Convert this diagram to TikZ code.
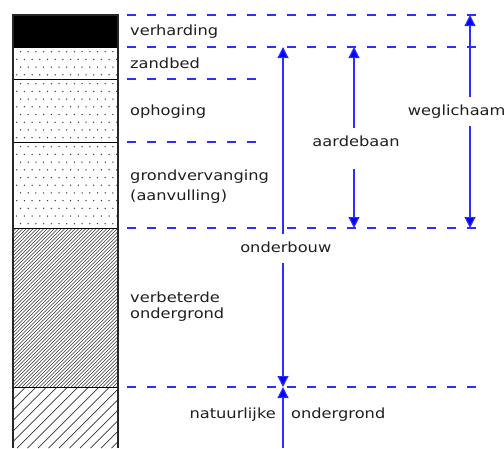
\documentclass[tikz,border=0pt]{standalone}
\usepackage{fontspec}
\newfontfamily\cadfont{DejaVu Sans}[FakeStretch=1.16]
\usetikzlibrary{arrows.meta}
\definecolor{dimblue}{RGB}{45,45,255}
\definecolor{dotgray}{RGB}{60,60,60}
\tikzset{
    lbl/.style={font=\cadfont\fontsize{14}{17}\selectfont, text=black!88, inner sep=0pt},
    arrlbl/.style={lbl, text height=10.6pt, text depth=3.3pt, inner ysep=7.5pt},
    guide/.style={draw=dimblue, line width=1.1pt, dash pattern=on 8.5pt off 11.5pt},
    dimarrow/.style={draw=dimblue, line width=1.2pt, -{Triangle[width=11pt,length=11pt,fill=blue]}}
}
\newcommand\sanddots[2]{%
    \pgfmathsetmacro\rows{floor((#2-#1-2)/7.7)}
    \foreach \r in {0,...,\rows}{
        \pgfmathsetmacro\yy{#1+4.7+7.7*\r}
        \ifodd\r
            \foreach \c in {0,...,13}{\fill[dotgray] (16.7+7.7*\c,\yy) circle (0.75pt);}
        \else
            \foreach \c in {0,...,12}{\fill[dotgray] (20.5+7.7*\c,\yy) circle (0.75pt);}
        \fi
    }
}
\begin{document}
\begin{tikzpicture}[x=1pt, y=-1pt]
    \useasboundingbox (0,0) rectangle (504,448);
    \fill[black] (13,15) rectangle (118,47);
    \sanddots{47}{79}
    \sanddots{79}{142}
    \sanddots{142}{228}
    \begin{scope}
        \clip (13,228) rectangle (118,387);
        \foreach \i in {0,...,76}{\draw[black!80, line width=0.6pt] (-146+3.5*\i,387) -- ++(159,-159);}
    \end{scope}
    \begin{scope}
        \clip (13,387) rectangle (118,448);
        \foreach \i in {0,...,16}{\draw[black!80, line width=0.7pt] (-46+10.5*\i,448) -- ++(61,-61);}
    \end{scope}
    \foreach \y in {47,79,142,228,387}{\draw[black, line width=1pt] (13,\y) -- (118,\y);}
    \draw[black!85, line width=1.4pt] (13,448) -- (13,15) -- (118,15) -- (118,448);

    \foreach \y in {15,47,228,387}{\draw[guide] (127,\y) -- (481,\y);}
    \foreach \y in {79,142}{\draw[guide] (127,\y) -- (258,\y);}

    \node[lbl, anchor=base west] (verharding) at (130,35.7) {verharding};
    \node[lbl, anchor=base west] (zandbed) at (130,68) {zandbed};
    \node[lbl, anchor=base west] (ophoging) at (130,115) {ophoging};
    \node[lbl, anchor=base west] (grondvervanging) at (130,180.7) {grondvervanging};
    \node[lbl, anchor=base west] (aanvulling) at (130,200) {(aanvulling)};
    \node[lbl, anchor=base west] (verbeterde) at (130,302) {verbeterde};
    \node[lbl, anchor=base west] (ondergrond1) at (130,318.3) {ondergrond};
    \node[lbl, anchor=base east] (natuurlijke) at (276,418) {natuurlijke};
    \node[lbl, anchor=base west] (ondergrond2) at (291,418) {ondergrond};

    \coordinate (ob-top) at (283,47);
    \coordinate (ob-mid) at (283,387);
    \coordinate (ob-bot) at (283,448);
    \coordinate (ad-top) at (354,47);
    \coordinate (ad-bot) at (354,228);
    \coordinate (wl-top) at (470,15);
    \coordinate (wl-bot) at (470,228);
    \node[arrlbl, anchor=base] (onderbouw) at (285.8,252) {onderbouw};
    \node[arrlbl, anchor=base, text depth=15pt] (aardebaan) at (356,146.7) {aardebaan};
    \node[arrlbl, anchor=base] (weglichaam) at (456.7,115) {weglichaam};

    \draw[dimarrow] (onderbouw.north -| ob-top) -- (ob-top);
    \draw[dimarrow] (onderbouw.south -| ob-top) -- (ob-mid);
    \draw[dimarrow] (ob-bot) -- (ob-mid);
    \draw[dimarrow] (aardebaan.north -| ad-top) -- (ad-top);
    \draw[dimarrow] (aardebaan.south -| ad-top) -- (ad-bot);
    \draw[dimarrow] (weglichaam.north -| wl-top) -- (wl-top);
    \draw[dimarrow] (weglichaam.south -| wl-top) -- (wl-bot);
\end{tikzpicture}
\end{document}
